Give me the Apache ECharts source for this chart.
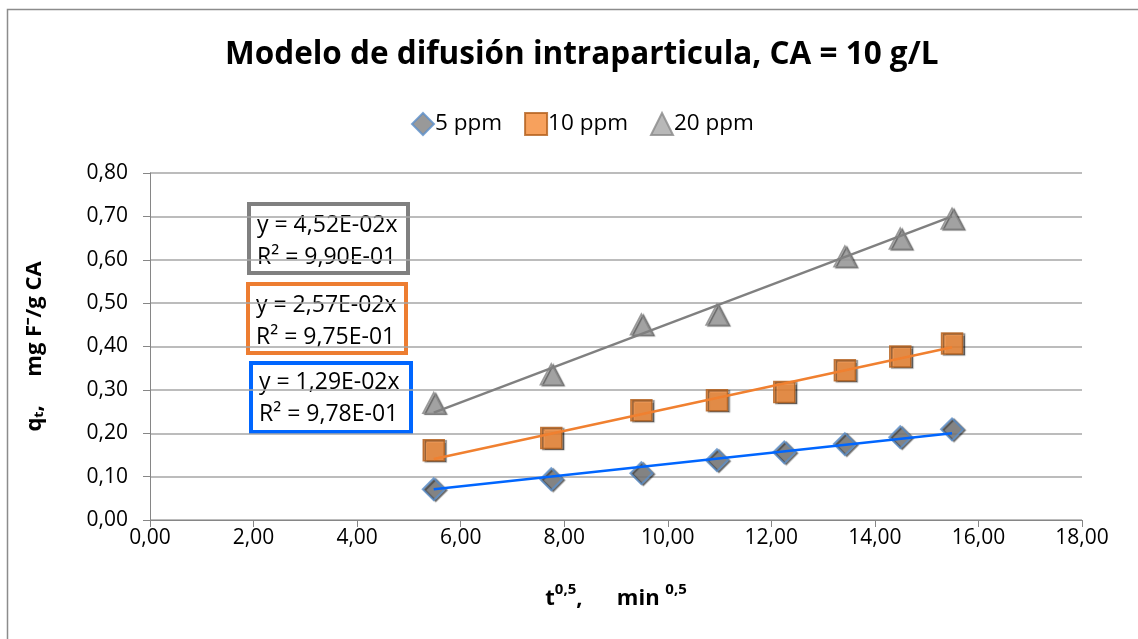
<!DOCTYPE html>
<html>
<head>
<meta charset="utf-8">
<script src="https://cdn.jsdelivr.net/npm/echarts@6/dist/echarts.min.js"></script>
<style>
	html, body { margin: 0; padding: 0; background: #fff; }
	#chart { width: 1138px; height: 639px; }
</style>
</head>
<body>
<div id="chart"></div>
<script>
	// t^0.5 (min^0.5)
	const x_5 = [5.48, 7.75, 9.49, 10.95, 12.25, 13.42, 14.49, 15.49];
	const x_10 = [5.48, 7.75, 9.49, 10.95, 12.25, 13.42, 14.49, 15.49];
	const x_20 = [5.48, 7.75, 9.49, 10.95, 13.42, 14.49, 15.49];
	// qt (mg F-/g CA)
	const q_5 = [0.071, 0.094, 0.108, 0.138, 0.156, 0.175, 0.191, 0.209];
	const q_10 = [0.161, 0.189, 0.253, 0.276, 0.295, 0.345, 0.377, 0.407];
	const q_20 = [0.270, 0.336, 0.451, 0.474, 0.608, 0.649, 0.695];
	// pendientes de las rectas (y = a x)
	const slopes = [0.0129, 0.0257, 0.0452];
	const eq_text = ['1,29E-02', '2,57E-02', '4,52E-02'];
	const r2 = ['9,78E-01', '9,75E-01', '9,90E-01'];
	const names = ['5 ppm', '10 ppm', '20 ppm'];
	const x_ticks = [0, 18, 2];
	const y_ticks = [0, 0.8, 0.1];

	let chart = echarts.init(document.getElementById('chart'));
	const FONT = 'Open Sans';

	let pairs = function(xs, ys){
		return xs.map((x, i) => [x, ys[i]]);
	};
	let trend = function(xs, a){
		let x0 = Math.min(...xs), x1 = Math.max(...xs);
		return [[x0, a * x0], [x1, a * x1]];
	};
	let comma = function(v){
		return v.toFixed(2).replace('.', ',');
	};

	const shadow = {
		shadowColor: 'rgba(0,0,0,0.55)',
		shadowOffsetX: 2,
		shadowOffsetY: 1,
		shadowBlur: 1
	};

	// cajas con las ecuaciones
	let box = function(x, y, w, h, color, eq, r, ty){
		return {
			type: 'group',
			children: [
				{
					type: 'rect',
					shape: { x: x, y: y, width: w, height: h },
					style: { fill: '#fff', stroke: color, lineWidth: 4 }
				},
				{
					type: 'text',
					x: x + 8, y: ty,
					style: {
						text: 'y = ' + eq + 'x\nR² = ' + r,
						font: '23px "' + FONT + '"',
						lineHeight: 32,
						fill: '#000'
					}
				}
			]
		};
	};

	let options = {
		animation: false,
		title: {
			text: 'Modelo de difusión intraparticula, CA = 10 g/L',
			left: 220,
			top: 34,
			textStyle: { fontFamily: FONT, fontWeight: 'bold', fontSize: 31.5, color: '#000' }
		},
		legend: {
			top: 107,
			left: 406,
			itemWidth: 22,
			itemHeight: 22,
			itemGap: 22,
			data: names,
			textStyle: { fontFamily: FONT, fontSize: 22.5, color: '#000', padding: [0, 0, 0, -4] }
		},
		grid: { left: 150, right: 56, top: 173, bottom: 119 },
		xAxis: {
			type: 'value',
			min: x_ticks[0], max: x_ticks[1], interval: x_ticks[2],
			axisLine: { show: true, lineStyle: { color: '#868686', width: 1 } },
			axisTick: { show: true, length: 7, lineStyle: { color: '#868686' } },
			axisLabel: { formatter: comma, fontFamily: FONT, fontSize: 21, color: '#000', margin: 8 },
			splitLine: { show: false },
			name: '{b|t}{s|0,5}{b|,      min }{s|0,5}',
			nameLocation: 'middle',
			nameGap: 62,
			nameTextStyle: {
				rich: {
					b: { fontFamily: FONT, fontWeight: 'bold', fontSize: 22, color: '#000', lineHeight: 28, verticalAlign: 'bottom' },
					s: { fontFamily: FONT, fontWeight: 'bold', fontSize: 15, color: '#000', lineHeight: 28, verticalAlign: 'top' }
				}
			}
		},
		yAxis: {
			type: 'value',
			min: y_ticks[0], max: y_ticks[1], interval: y_ticks[2],
			axisLine: { show: true, lineStyle: { color: '#868686', width: 1 } },
			axisTick: { show: true, length: 7, lineStyle: { color: '#868686' } },
			axisLabel: { formatter: comma, fontFamily: FONT, fontSize: 21, color: '#000', margin: 22 },
			splitLine: { show: true, lineStyle: { color: '#a6a6a6', width: 1.5 } },
			name: 'qₜ,     mg F⁻/g CA',
			nameLocation: 'middle',
			nameRotate: 90,
			nameGap: 104,
			nameTextStyle: { fontFamily: FONT, fontWeight: 'bold', fontSize: 22, color: '#000' }
		},
		graphic: [
			{
				type: 'rect',
				silent: true,
				shape: { x: 7.5, y: 9.5, width: 1200, height: 700 },
				style: { fill: 'none', stroke: '#8c8c8c', lineWidth: 1.5 }
			},
			box(249, 204, 159, 69, '#808080', eq_text[2], r2[2], 209),
			box(248, 284, 158, 69, '#ED7D31', eq_text[1], r2[1], 289),
			box(251, 363, 160, 69, '#0066FF', eq_text[0], r2[0], 366)
		],
		series: [
			{
				name: names[0] + ' tendencia',
				type: 'line',
				data: trend(x_5, slopes[0]),
				symbol: 'none',
				silent: true,
				z: 2,
				lineStyle: { color: '#0066FF', width: 2.5 }
			},
			{
				name: names[1] + ' tendencia',
				type: 'line',
				data: trend(x_10, slopes[1]),
				symbol: 'none',
				silent: true,
				z: 2,
				lineStyle: { color: '#F08030', width: 2.5 }
			},
			{
				name: names[2] + ' tendencia',
				type: 'line',
				data: trend(x_20, slopes[2]),
				symbol: 'none',
				silent: true,
				z: 2,
				lineStyle: { color: '#808080', width: 2.5 }
			},
			{
				name: names[0],
				type: 'scatter',
				data: pairs(x_5, q_5),
				symbol: 'diamond',
				symbolSize: 22,
				z: 1,
				itemStyle: Object.assign({ color: '#7f7f7f', borderColor: '#5B8FC9', borderWidth: 2 }, shadow)
			},
			{
				name: names[1],
				type: 'scatter',
				data: pairs(x_10, q_10),
				symbol: 'rect',
				symbolSize: 21,
				z: 1,
				itemStyle: Object.assign({ color: '#F58A35', borderColor: '#B35F1C', borderWidth: 1.5 }, shadow)
			},
			{
				name: names[2],
				type: 'scatter',
				data: pairs(x_20, q_20),
				symbol: 'triangle',
				symbolSize: [22, 21],
				z: 1,
				itemStyle: Object.assign({ color: '#A6A6A6', borderColor: '#8a8a8a', borderWidth: 1.5 }, shadow)
			}
		]
	};
	chart.setOption(options);
</script>
</body>
</html>
